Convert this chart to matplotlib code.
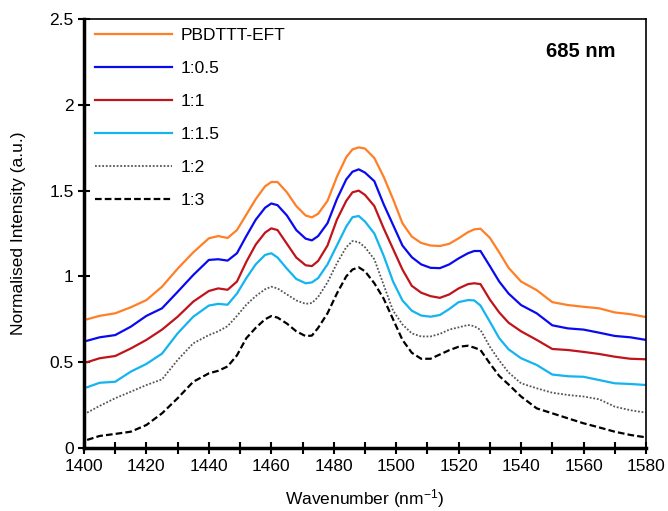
import matplotlib
matplotlib.use("Agg")
import matplotlib.pyplot as plt
from matplotlib.ticker import MultipleLocator

plt.rcParams['font.family'] = ['Liberation Sans', 'DejaVu Sans']
plt.rcParams['mathtext.fontset'] = 'custom'
plt.rcParams['mathtext.rm'] = 'Liberation Sans'
plt.rcParams['mathtext.it'] = 'Liberation Sans'

wavenumber = [1401, 1405, 1410, 1415, 1420, 1425, 1430, 1435, 1440, 1443, 1446, 1449,
              1452, 1455, 1458, 1460, 1462, 1465, 1468, 1471, 1473, 1475, 1478, 1481,
              1484, 1486, 1488, 1490, 1493, 1496, 1499, 1502, 1505, 1508, 1511, 1514,
              1517, 1520, 1523, 1525, 1527, 1530, 1533, 1536, 1540, 1545, 1550, 1555,
              1560, 1565, 1570, 1575, 1580]

pbdttt = [0.75, 0.77, 0.785, 0.82, 0.862, 0.94, 1.045, 1.14, 1.222, 1.235, 1.224, 1.27,
          1.36, 1.45, 1.525, 1.55, 1.55, 1.49, 1.41, 1.355, 1.344, 1.365, 1.44, 1.58,
          1.695, 1.74, 1.752, 1.745, 1.69, 1.58, 1.45, 1.31, 1.232, 1.195, 1.18, 1.177,
          1.19, 1.222, 1.258, 1.274, 1.278, 1.225, 1.14, 1.05, 0.97, 0.92, 0.85, 0.833,
          0.823, 0.814, 0.79, 0.78, 0.763]
r1_05 = [0.625, 0.645, 0.658, 0.707, 0.77, 0.814, 0.91, 1.008, 1.096, 1.10, 1.092, 1.135,
         1.235, 1.33, 1.40, 1.425, 1.415, 1.355, 1.27, 1.22, 1.21, 1.235, 1.31, 1.45,
         1.565, 1.61, 1.624, 1.605, 1.555, 1.42, 1.30, 1.18, 1.112, 1.07, 1.05, 1.048,
         1.07, 1.105, 1.135, 1.148, 1.148, 1.06, 0.97, 0.90, 0.833, 0.785, 0.715, 0.697,
         0.69, 0.672, 0.653, 0.645, 0.63]
r1_1 = [0.50, 0.523, 0.536, 0.58, 0.63, 0.69, 0.765, 0.853, 0.915, 0.93, 0.922, 0.97,
        1.085, 1.185, 1.255, 1.28, 1.27, 1.19, 1.11, 1.065, 1.06, 1.09, 1.18, 1.33,
        1.44, 1.49, 1.50, 1.475, 1.41, 1.28, 1.16, 1.04, 0.945, 0.905, 0.885, 0.875,
        0.895, 0.93, 0.955, 0.96, 0.955, 0.865, 0.79, 0.73, 0.68, 0.63, 0.577, 0.571,
        0.56, 0.548, 0.532, 0.52, 0.517]
r1_15 = [0.354, 0.38, 0.386, 0.445, 0.49, 0.55, 0.668, 0.765, 0.83, 0.84, 0.835, 0.90,
         0.99, 1.07, 1.125, 1.135, 1.11, 1.045, 0.985, 0.96, 0.965, 0.99, 1.07, 1.18,
         1.29, 1.345, 1.352, 1.32, 1.25, 1.12, 0.97, 0.86, 0.80, 0.772, 0.765, 0.775,
         0.81, 0.85, 0.862, 0.86, 0.83, 0.736, 0.64, 0.575, 0.523, 0.484, 0.428, 0.418,
         0.415, 0.396, 0.377, 0.373, 0.367]
r1_2 = [0.206, 0.245, 0.29, 0.328, 0.367, 0.40, 0.513, 0.61, 0.658, 0.68, 0.71, 0.77,
        0.835, 0.885, 0.925, 0.94, 0.93, 0.895, 0.86, 0.84, 0.845, 0.88, 0.965, 1.076,
        1.17, 1.206, 1.20, 1.17, 1.10, 0.95, 0.80, 0.72, 0.668, 0.65, 0.65, 0.665,
        0.69, 0.703, 0.717, 0.71, 0.688, 0.59, 0.51, 0.44, 0.377, 0.348, 0.322, 0.309,
        0.30, 0.284, 0.241, 0.22, 0.206]
r1_3 = [0.047, 0.07, 0.082, 0.095, 0.134, 0.202, 0.29, 0.386, 0.435, 0.45, 0.475, 0.54,
        0.64, 0.70, 0.75, 0.769, 0.76, 0.725, 0.68, 0.652, 0.655, 0.70, 0.785, 0.90,
        1.00, 1.04, 1.053, 1.03, 0.96, 0.87, 0.75, 0.63, 0.555, 0.52, 0.52, 0.545,
        0.57, 0.59, 0.596, 0.585, 0.571, 0.493, 0.42, 0.37, 0.30, 0.231, 0.202, 0.173,
        0.144, 0.12, 0.095, 0.076, 0.062]

labels = ['PBDTTT-EFT', '1:0.5', '1:1', '1:1.5', '1:2', '1:3']
series = [pbdttt, r1_05, r1_1, r1_15, r1_2, r1_3]
colors = ['#FF7F27', '#0A0AF0', '#C0141C', '#14B4F0', '#555555', '#000000']
styles = ['-', '-', '-', '-', (0, (1, 1)), (0, (3, 1.4))]
widths = [1.6, 1.6, 1.6, 1.6, 1.3, 1.6]

fig = plt.figure(figsize=(6.68, 5.11), dpi=100)
ax = fig.add_axes([0.1257, 0.1233, 0.8413, 0.8395])

for y, lab, c, ls, lw in zip(series, labels, colors, styles, widths):
    ax.plot(wavenumber, y, color=c, linestyle=ls, linewidth=lw, label=lab,
            solid_joinstyle='round')

ax.set_xlim(1400, 1580)
ax.set_ylim(0, 2.5)
ax.xaxis.set_major_locator(MultipleLocator(20))
ax.xaxis.set_minor_locator(MultipleLocator(10))
ax.set_yticks([0, 0.5, 1, 1.5, 2, 2.5])
ax.set_yticklabels(['0', '0.5', '1', '1.5', '2', '2.5'])

ax.tick_params(axis='both', which='both', direction='inout', length=8, width=1.5,
               labelsize=12.5, colors='black')
ax.tick_params(axis='x', pad=4)
ax.spines['left'].set_linewidth(2.5)
ax.spines['bottom'].set_linewidth(2.5)
ax.spines['top'].set_linewidth(1.2)
ax.spines['right'].set_linewidth(1.2)

ax.set_xlabel(r'Wavenumber (nm$^{-1}$)', fontsize=12.5, labelpad=9)
ax.set_ylabel('Normalised Intensity (a.u.)', fontsize=12.5, labelpad=17)

ax.text(0.945, 0.925, '685 nm', transform=ax.transAxes, fontsize=14.5, fontweight='bold',
        ha='right', va='center')

leg = ax.legend(loc='upper left', frameon=False, fontsize=12.5, handlelength=4.4,
                handletextpad=0.5, labelspacing=1.03, borderaxespad=0.1,
                bbox_to_anchor=(0.005, 1.0))

fig.savefig('out.png', dpi=100)
